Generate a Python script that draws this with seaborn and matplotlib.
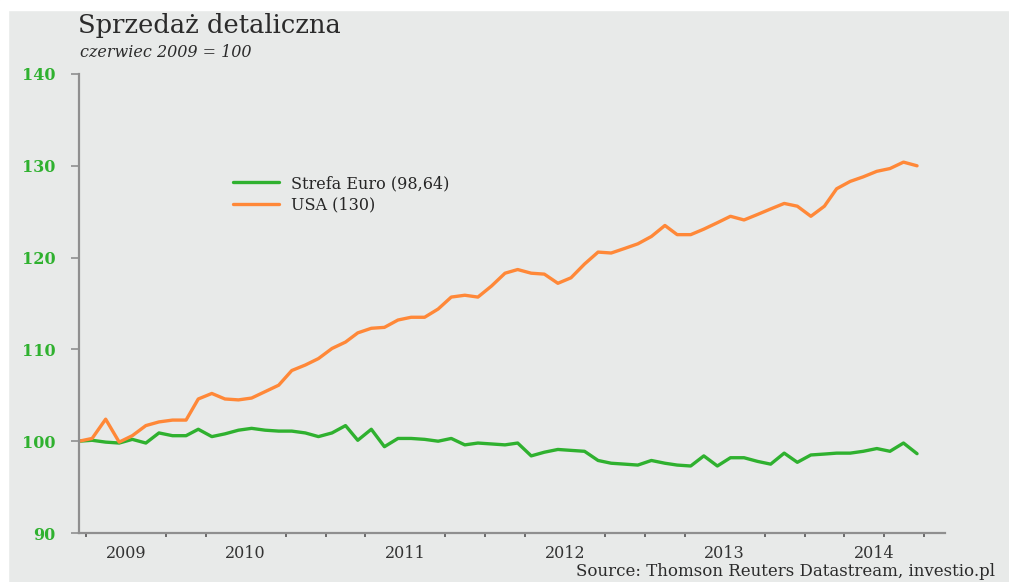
import pandas as pd
import matplotlib.pyplot as plt
import matplotlib.dates as mdates
from matplotlib.patches import Rectangle
import seaborn as sns

# monthly index, czerwiec 2009 = 100
months = pd.date_range("2009-06-01", periods=64, freq="MS") + pd.Timedelta(days=14)

strefa_euro = [
    100.0, 100.1, 99.9, 99.8, 100.2, 99.8, 100.9, 100.6, 100.6, 101.3,
    100.5, 100.8, 101.2, 101.4, 101.2, 101.1, 101.1, 100.9, 100.5, 100.9,
    101.7, 100.1, 101.3, 99.4, 100.3, 100.3, 100.2, 100.0, 100.3, 99.6,
    99.8, 99.7, 99.6, 99.8, 98.4, 98.8, 99.1, 99.0, 98.9, 97.9,
    97.6, 97.5, 97.4, 97.9, 97.6, 97.4, 97.3, 98.4, 97.3, 98.2,
    98.2, 97.8, 97.5, 98.7, 97.7, 98.5, 98.6, 98.7, 98.7, 98.9,
    99.2, 98.9, 99.8, 98.64,
]
usa = [
    100.0, 100.3, 102.4, 99.9, 100.6, 101.7, 102.1, 102.3, 102.3, 104.6,
    105.2, 104.6, 104.5, 104.7, 105.4, 106.1, 107.7, 108.3, 109.0, 110.1,
    110.8, 111.8, 112.3, 112.4, 113.2, 113.5, 113.5, 114.4, 115.7, 115.9,
    115.7, 116.9, 118.3, 118.7, 118.3, 118.2, 117.2, 117.8, 119.3, 120.6,
    120.5, 121.0, 121.5, 122.3, 123.5, 122.5, 122.5, 123.1, 123.8, 124.5,
    124.1, 124.7, 125.3, 125.9, 125.6, 124.5, 125.6, 127.5, 128.3, 128.8,
    129.4, 129.7, 130.4, 130.0,
]
labels = ["Strefa Euro (98,64)", "USA (130)"]
year_labels = ["2009", "2010", "2011", "2012", "2013", "2014"]
year_label_dates = ["2009-10-01", "2010-07-01", "2011-07-01",
                    "2012-07-01", "2013-07-01", "2014-06-10"]

bg = "#e8eae9"
green = "#2fb12f"
orange = "#ff8838"
axis_grey = "#8f8f8f"

sns.set_style("white")
plt.rcParams["font.family"] = ["DejaVu Serif"]

fig = plt.figure(figsize=(10.09, 5.82), dpi=100, facecolor=bg)
fig.patches.append(Rectangle((0, 1 - 10 / 582), 1, 10 / 582,
                             transform=fig.transFigure, color="white", zorder=0))
fig.patches.append(Rectangle((0, 0), 8 / 1009, 1,
                             transform=fig.transFigure, color="white", zorder=0))

ax = fig.add_axes([79 / 1009, 49 / 582, 866 / 1009, 459 / 582])
ax.set_facecolor(bg)

df = pd.DataFrame({"data": months, "euro": strefa_euro, "usa": usa})
sns.lineplot(data=df, x="data", y="euro", color=green, linewidth=2.4,
             label=labels[0], ax=ax)
sns.lineplot(data=df, x="data", y="usa", color=orange, linewidth=2.4,
             label=labels[1], ax=ax)

ax.set_xlim(pd.Timestamp("2009-06-15"), pd.Timestamp("2014-11-18"))
ax.set_ylim(90, 140)
ax.set_xlabel("")
ax.set_ylabel("")

for s in ["top", "right"]:
    ax.spines[s].set_visible(False)
for s in ["left", "bottom"]:
    ax.spines[s].set_color(axis_grey)
    ax.spines[s].set_linewidth(1.6)

ax.set_yticks(range(90, 141, 10))
ax.tick_params(axis="y", left=True, direction="out", length=6, width=1.2,
               color=axis_grey, labelcolor=green, labelsize=11.5, pad=11)
for t in ax.get_yticklabels():
    t.set_fontweight("semibold")

ax.xaxis.set_minor_locator(mdates.MonthLocator(bymonth=[1, 4, 7, 10]))
ax.set_xticks([pd.Timestamp(d) for d in year_label_dates])
ax.set_xticklabels(year_labels)
ax.tick_params(axis="x", which="major", bottom=True, length=0, labelsize=11.5,
               labelcolor="#333333", pad=9)
ax.tick_params(axis="x", which="minor", bottom=True, direction="out", length=3,
               width=1.2, color="#555555")

ax.legend(loc="upper left", bbox_to_anchor=(0.178, 0.78), frameon=False,
          fontsize=11.5, handlelength=2.9, handletextpad=0.75,
          labelspacing=0.3, borderpad=0, borderaxespad=0)

fig.text(78 / 1009, 1 - 33 / 582, "Sprzedaż detaliczna", fontsize=18.5,
         color="#2b2b2b", va="baseline")
fig.text(80 / 1009, 1 - 57 / 582, "czerwiec 2009 = 100", fontsize=11.5,
         style="italic", color="#2b2b2b", va="baseline")
fig.text(576 / 1009, 1 - 576 / 582,
         "Source: Thomson Reuters Datastream, investio.pl", fontsize=12,
         color="#2b2b2b", va="baseline")

fig.savefig("out.png", dpi=100, facecolor=bg)
